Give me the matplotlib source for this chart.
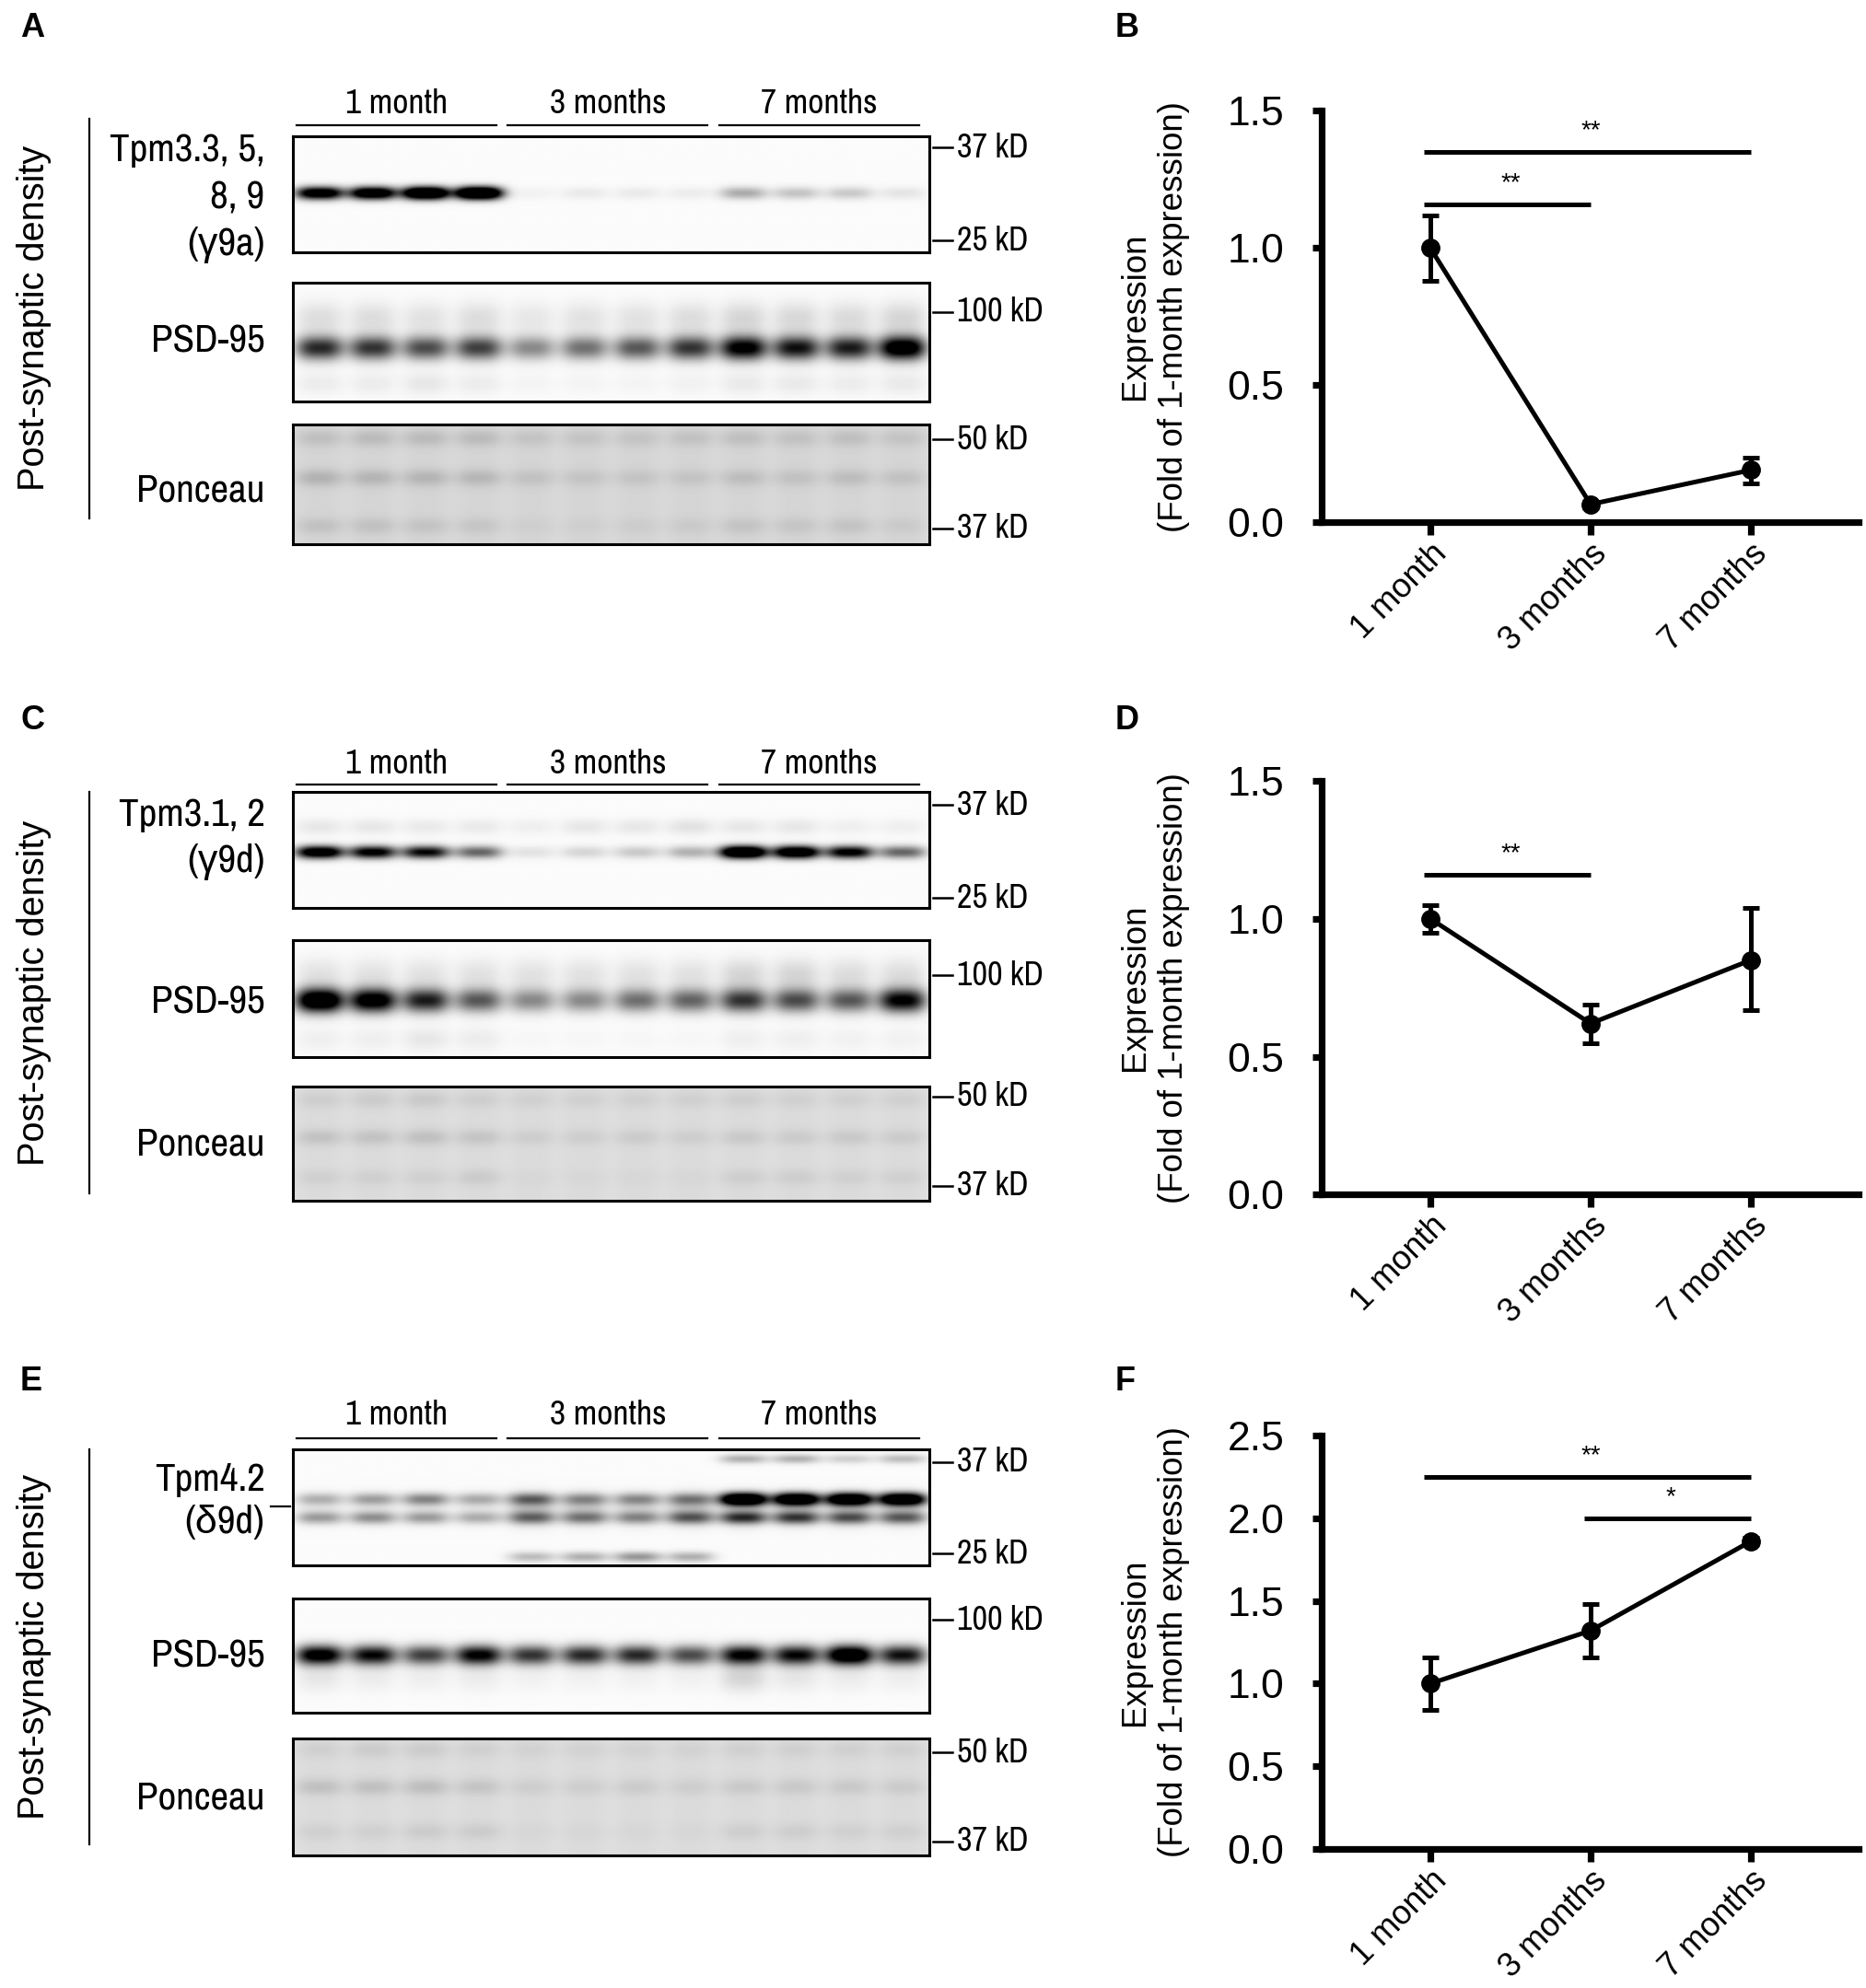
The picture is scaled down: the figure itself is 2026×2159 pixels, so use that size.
import numpy as np
import matplotlib
matplotlib.use('Agg')
import matplotlib.pyplot as plt
from matplotlib import font_manager

# ---------------- data ----------------
groups = ['1 month', '3 months', '7 months']

# quantification (fold of 1-month expression), mean and error bar ends
b_mean = [1.00, 0.065, 0.19]
b_lo = [0.88, 0.055, 0.14]
b_hi = [1.12, 0.075, 0.235]

d_mean = [1.00, 0.62, 0.85]
d_lo = [0.95, 0.55, 0.67]
d_hi = [1.05, 0.69, 1.04]

f_mean = [1.00, 1.32, 1.86]
f_lo = [0.84, 1.16, 1.84]
f_hi = [1.16, 1.48, 1.88]

# significance bars: (from group, to group, height, stars)
b_sig = [(0, 1, 1.16, '**'), (0, 2, 1.35, '**')]
d_sig = [(0, 1, 1.16, '**')]
f_sig = [(0, 2, 2.25, '**'), (1, 2, 2.00, '*')]

# western blot band intensities (12 lanes, 4 per age), per blot:
# (band centre from top, band thickness, lane intensities)
blot_a_tpm = [(0.49, 0.055, [1.3, 1.4, 1.7, 1.8, 0.04, 0.07, 0.07, 0.06, 0.32, 0.22, 0.20, 0.09])]
blot_a_psd = [(0.55, 0.10, [0.85, 0.80, 0.70, 0.75, 0.45, 0.55, 0.65, 0.80, 1.10, 0.95, 0.90, 1.25]),
              (0.30, 0.14, [0.12, 0.12, 0.10, 0.12, 0.08, 0.10, 0.10, 0.12, 0.15, 0.14, 0.13, 0.15]),
              (0.85, 0.10, [0.06, 0.06, 0.08, 0.06, 0.03, 0.03, 0.03, 0.04, 0.07, 0.07, 0.06, 0.07])]
blot_c_tpm = [(0.52, 0.055, [1.3, 1.1, 1.0, 0.6, 0.10, 0.15, 0.20, 0.30, 1.6, 1.4, 1.1, 0.6]),
              (0.30, 0.07, [0.08, 0.08, 0.07, 0.07, 0.05, 0.08, 0.08, 0.10, 0.08, 0.08, 0.05, 0.05])]
blot_c_psd = [(0.52, 0.10, [1.40, 1.20, 0.90, 0.65, 0.45, 0.45, 0.55, 0.60, 0.80, 0.70, 0.65, 1.05]),
              (0.30, 0.14, [0.10, 0.10, 0.10, 0.10, 0.10, 0.10, 0.10, 0.10, 0.15, 0.15, 0.12, 0.12]),
              (0.85, 0.10, [0.05, 0.05, 0.08, 0.06, 0.02, 0.02, 0.02, 0.02, 0.05, 0.05, 0.04, 0.04])]
blot_e_tpm = [(0.08, 0.04, [0.0, 0.0, 0.0, 0.0, 0.0, 0.0, 0.0, 0.0, 0.30, 0.30, 0.18, 0.25]),
              (0.43, 0.055, [0.28, 0.35, 0.45, 0.30, 0.55, 0.40, 0.40, 0.45, 1.6, 1.5, 1.5, 1.5]),
              (0.59, 0.055, [0.35, 0.40, 0.35, 0.28, 0.50, 0.45, 0.40, 0.55, 0.75, 0.70, 0.60, 0.55]),
              (0.52, 0.13, [0.05, 0.05, 0.05, 0.05, 0.18, 0.15, 0.12, 0.18, 0.15, 0.15, 0.15, 0.15]),
              (0.93, 0.045, [0.0, 0.0, 0.0, 0.0, 0.25, 0.30, 0.40, 0.30, 0.0, 0.0, 0.0, 0.0])]
blot_e_psd = [(0.50, 0.085, [1.15, 1.00, 0.75, 1.05, 0.80, 0.85, 0.85, 0.70, 1.05, 1.00, 1.35, 0.95]),
              (0.70, 0.12, [0.08, 0.06, 0.05, 0.06, 0.04, 0.04, 0.04, 0.04, 0.15, 0.08, 0.06, 0.05])]
ponceau_a = [(0.12, 0.07, [0.10, 0.12, 0.12, 0.12, 0.08, 0.08, 0.08, 0.09, 0.10, 0.09, 0.10, 0.08]),
             (0.45, 0.07, [0.16, 0.15, 0.15, 0.14, 0.09, 0.08, 0.08, 0.08, 0.11, 0.09, 0.11, 0.09]),
             (0.85, 0.07, [0.09, 0.09, 0.08, 0.07, 0.03, 0.03, 0.04, 0.05, 0.08, 0.07, 0.08, 0.05])]
ponceau_c = [(0.12, 0.07, [0.06, 0.07, 0.08, 0.06, 0.05, 0.05, 0.05, 0.05, 0.06, 0.05, 0.05, 0.05]),
             (0.45, 0.07, [0.11, 0.11, 0.12, 0.10, 0.06, 0.06, 0.07, 0.06, 0.08, 0.07, 0.08, 0.07]),
             (0.80, 0.07, [0.05, 0.05, 0.05, 0.07, 0.02, 0.02, 0.02, 0.02, 0.06, 0.06, 0.05, 0.05])]
ponceau_e = [(0.10, 0.07, [0.05, 0.07, 0.07, 0.05, 0.04, 0.04, 0.04, 0.04, 0.05, 0.05, 0.05, 0.05]),
             (0.42, 0.07, [0.12, 0.12, 0.13, 0.10, 0.06, 0.06, 0.07, 0.06, 0.08, 0.08, 0.08, 0.07]),
             (0.80, 0.07, [0.05, 0.05, 0.07, 0.07, 0.02, 0.02, 0.02, 0.02, 0.06, 0.06, 0.05, 0.05])]

# ---------------- fonts ----------------
installed = sorted({f.name for f in font_manager.fontManager.ttflist})
sans = 'Liberation Sans' if 'Liberation Sans' in installed else 'DejaVu Sans'
narrow_cands = [n for n in installed if 'Narrow' in n or 'Condensed' in n]
narrow = narrow_cands[0] if narrow_cands else sans
plt.rcParams['font.family'] = [sans, 'DejaVu Sans']
NARROW = [narrow, sans, 'DejaVu Sans']

W, H = 1466.0, 1561.0
fig = plt.figure(figsize=(10.13, 10.795), dpi=200)


def box(x0, y0, x1, y1):
    return [x0 / W, 1 - y1 / H, (x1 - x0) / W, (y1 - y0) / H]


def ftext(x, y, s, **kw):
    fig.text(x / W, 1 - y / H, s, **kw)


def fline(x0, y0, x1, y1, lw=0.8):
    fig.add_artist(plt.Line2D([x0 / W, x1 / W], [1 - y0 / H, 1 - y1 / H],
                              color='black', lw=lw))


def draw_blot(y0, y1, bands, bg=0.985, lane_shade=0.0):
    ax = fig.add_axes(box(230, y0, 730, y1))
    xs = np.linspace(0, 1, 600)
    ys = np.linspace(0, 1, 160)
    X, Y = np.meshgrid(xs, ys)
    dark = np.zeros_like(X)
    centres = (np.arange(12) + 0.5) / 12
    for lane in range(12):
        prof_x = np.exp(-np.abs((X - centres[lane]) / 0.037) ** 3)
        dark += lane_shade * prof_x
        for yc, sy, vals in bands:
            dark += vals[lane] * prof_x * np.exp(-((Y - yc) / sy) ** 2)
    img = bg * (1 - np.clip(dark, 0, 1))
    ax.imshow(img, cmap='gray', vmin=0, vmax=1, extent=[0, 1, 1, 0],
              aspect='auto', interpolation='bilinear')
    ax.set_xticks([])
    ax.set_yticks([])
    for s in ax.spines.values():
        s.set_linewidth(1.1)
    return ax


def marker(y, label):
    fline(733, y, 748, y, lw=0.9)
    ftext(752, y, label, family=NARROW, fontsize=13, ha='left', va='center')


def blot_panel(letter, letter_y, text_y, under_y, tpm_lines, tpm_ys, blots,
               markers, vline, psd_y, ponc_y):
    ftext(16, letter_y, letter, fontsize=13, fontweight='bold', ha='left', va='center')
    for i, g in enumerate(groups):
        xa, xb = 233 + i * 166, 390 + i * 166
        ftext((xa + xb) / 2, text_y, g, family=NARROW, fontsize=13.5,
              ha='center', va='center')
        fline(xa, under_y, xb, under_y, lw=0.8)
    for (y0, y1, bands, bg, shade) in blots:
        draw_blot(y0, y1, bands, bg, shade)
    for y, lab in markers:
        marker(y, lab)
    for s, y in zip(tpm_lines, tpm_ys):
        ftext(208, y, s, family=NARROW, fontsize=15.5, ha='right', va='center')
    ftext(208, psd_y, 'PSD-95', family=NARROW, fontsize=15.5, ha='right', va='center')
    ftext(208, ponc_y, 'Ponceau', family=NARROW, fontsize=15.5, ha='right', va='center')
    fline(70, vline[0], 70, vline[1], lw=0.8)
    ftext(27, (vline[0] + vline[1]) / 2, 'Post-synaptic density', fontsize=14.3,
          rotation=90, ha='center', va='center')


# panel A
blot_panel('A', 22, 81, 98, ['Tpm3.3, 5,', '8, 9', '(γ9a)'], [118, 155, 192],
           [(107, 198, blot_a_tpm, 0.985, 0.0),
            (222, 315, blot_a_psd, 0.985, 0.0),
            (333, 427, ponceau_a, 0.86, 0.03)],
           [(116, '37 kD'), (189, '25 kD'), (245, '100 kD'), (345, '50 kD'), (415, '37 kD')],
           (93, 407), 268, 385)

# panel C
blot_panel('C', 566, 600, 616, ['Tpm3.1, 2', '(γ9d)'], [640, 677],
           [(622, 713, blot_c_tpm, 0.985, 0.0),
            (738, 830, blot_c_psd, 0.985, 0.0),
            (853, 943, ponceau_c, 0.88, 0.025)],
           [(632, '37 kD'), (705, '25 kD'), (766, '100 kD'), (861, '50 kD'), (931, '37 kD')],
           (622, 937), 787, 898)

# panel E
blot_panel('E', 1085, 1111, 1129, ['Tpm4.2', '(δ9d)'], [1162, 1195],
           [(1138, 1229, blot_e_tpm, 0.985, 0.0),
            (1255, 1345, blot_e_psd, 0.985, 0.0),
            (1365, 1457, ponceau_e, 0.88, 0.025)],
           [(1148, '37 kD'), (1220, '25 kD'), (1272, '100 kD'), (1376, '50 kD'), (1446, '37 kD')],
           (1138, 1448), 1300, 1412)
fline(213, 1183, 228, 1183, lw=0.8)


# ---------------- line charts ----------------
def chart(letter, letter_y, y0, y1, ymax, yticks, mean, lo, hi, sigs):
    ftext(876, letter_y, letter, fontsize=13, fontweight='bold', ha='left', va='center')
    ax = fig.add_axes(box(1038, y0, 1460, y1))
    x = np.arange(len(groups))
    mean = np.array(mean)
    yerr = [mean - np.array(lo), np.array(hi) - mean]
    ax.errorbar(x, mean, yerr=yerr, color='black', lw=1.8, marker='o', ms=6.5,
                capsize=3.2, capthick=1.8, elinewidth=1.8)
    for a, b, h, stars in sigs:
        ax.plot([a - 0.04, b + 0.0], [h, h], color='black', lw=1.8,
                solid_capstyle='butt', clip_on=False)
        ax.text((a + b) / 2, h + ymax * 0.022, stars, ha='center', va='bottom',
                fontsize=10)
    ax.set_xlim(-0.68, 2.67)
    ax.set_ylim(0, ymax)
    ax.set_yticks(yticks)
    ax.set_yticklabels(['%.1f' % t for t in yticks], fontsize=16)
    ax.set_xticks(x)
    ax.set_xticklabels(groups, rotation=45, ha='right', rotation_mode='anchor',
                       fontsize=13)
    ax.spines['top'].set_visible(False)
    ax.spines['right'].set_visible(False)
    ax.spines['left'].set_linewidth(2.6)
    ax.spines['bottom'].set_linewidth(2.6)
    ax.tick_params(axis='x', length=5, width=2.6, pad=1)
    ax.tick_params(axis='y', length=3.5, width=2.6, pad=11)
    ax.set_ylabel('Expression\n(Fold of 1-month expression)', fontsize=13.2,
                  linespacing=1.25)
    ax.yaxis.set_label_coords(-0.245, 0.5)
    ax.patch.set_alpha(0)


chart('B', 22, 87, 410, 1.5, [0.0, 0.5, 1.0, 1.5], b_mean, b_lo, b_hi, b_sig)
chart('D', 566, 613, 938, 1.5, [0.0, 0.5, 1.0, 1.5], d_mean, d_lo, d_hi, d_sig)
chart('F', 1085, 1127, 1452, 2.5, [0.0, 0.5, 1.0, 1.5, 2.0, 2.5], f_mean, f_lo, f_hi, f_sig)

fig.savefig('out.png', dpi=200, facecolor='white')
